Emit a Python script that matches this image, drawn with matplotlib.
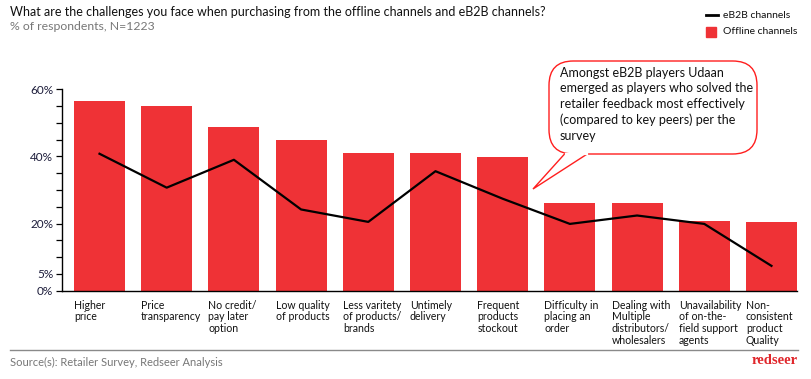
import matplotlib
matplotlib.use("Agg")
import matplotlib.pyplot as plt
from matplotlib.patches import FancyBboxPatch, Polygon, Rectangle
from matplotlib.lines import Line2D

categories = ["Higher\nprice", "Price\ntransparency", "No credit/\npay later\noption",
              "Low quality\nof products", "Less varitety\nof products/\nbrands",
              "Untimely\ndelivery", "Frequent\nproducts\nstockout",
              "Difficulty in\nplacing an\norder", "Dealing with\nMultiple\ndistributors/\nwholesalers",
              "Unavailability\nof on-the-\nfield support\nagents", "Non-\nconsistent\nproduct\nQuality"]
offline = [56.4, 55.1, 48.8, 44.9, 41.0, 41.0, 39.8, 26.1, 26.0, 20.9, 20.6]
eb2b = [40.8, 30.7, 39.0, 24.2, 20.5, 35.6, 27.4, 19.9, 22.4, 19.9, 7.4]
yticks = [0, 5, 20, 40, 60]
ytick_labels = ["0%", "5%", "20%", "40%", "60%"]

title = "What are the challenges you face when purchasing from the offline channels and eB2B channels?"
subtitle = "% of respondents, N=1223"
callout = ("Amongst eB2B players Udaan\nemerged as players who solved the\n"
           "retailer feedback most effectively\n(compared to key peers) per the\nsurvey")
source = "Source(s): Retailer Survey, Redseer Analysis"

RED = "#EF3236"
plt.rcParams['font.family'] = ['Lato', 'DejaVu Sans']

W, H = 811, 379
fig = plt.figure(figsize=(W / 100, H / 100), dpi=100)

def fx(px):
    return px / W

def fy(py):
    return 1 - py / H

ax = fig.add_axes([fx(61.7), fy(290.7), fx(797) - fx(61.7), fy(89.3) - fy(290.7)])
x = list(range(len(categories)))
width = 0.76
ax.bar(x, offline, width=width, color=RED, zorder=2)
ax.plot(x, eb2b, color="black", lw=1.6, zorder=3)
ax.set_xlim(-0.5625, 10 + width / 2)
ax.set_ylim(0, 60)
ax.set_yticks(range(0, 61, 5))
ax.set_yticklabels([ytick_labels[yticks.index(v)] if v in yticks else "" for v in range(0, 61, 5)],
                   fontsize=8.5, color="#1c1c3a")
ax.tick_params(axis='y', length=4, width=0.9, pad=2)
ax.set_xticks([])
for s in ["top", "right"]:
    ax.spines[s].set_visible(False)
ax.spines["left"].set_linewidth(1.0)
ax.spines["bottom"].set_linewidth(1.0)

for i, lab in enumerate(categories):
    ax.text(i - width / 2, -2.7, lab, ha="left", va="top", fontsize=7.6,
            color="#111111", linespacing=1.08)

# Title and subtitle
fig.text(fx(10), fy(12), title, ha="left", va="center", fontsize=9, color="#111111")
fig.text(fx(10), fy(27), subtitle, ha="left", va="center", fontsize=8.8, color="#777777")

# Legend
fig.add_artist(Line2D([fx(706), fx(718)], [fy(15), fy(15)], color="black", lw=2))
fig.text(fx(723), fy(15), "eB2B channels", ha="left", va="center", fontsize=7.5, color="#111111")
fig.add_artist(Rectangle((fx(706), fy(37)), fx(716) - fx(706), fy(27) - fy(37), color=RED))
fig.text(fx(723), fy(32), "Offline channels", ha="left", va="center", fontsize=7.5, color="#111111")

# Callout
box = FancyBboxPatch((fx(549), fy(154)), fx(757) - fx(549), fy(61) - fy(154),
                     boxstyle="round,pad=0,rounding_size=0.03", transform=fig.transFigure,
                     facecolor="white", edgecolor="#FF1E1E", lw=1.0, mutation_aspect=W / H)
fig.add_artist(box)
ptr = Polygon([(fx(565), fy(153.5)), (fx(533), fy(189)), (fx(588), fy(153.5))], closed=False,
              transform=fig.transFigure, facecolor="none", edgecolor="#FF1E1E", lw=1.0)
fig.add_artist(ptr)
fig.add_artist(Line2D([fx(566), fx(587)], [fy(153.8), fy(153.8)], color="white", lw=1.6))
fig.text(fx(560), fy(67), callout, ha="left", va="top", fontsize=9, color="#111111",
         linespacing=1.35)

# Footer
fig.add_artist(Line2D([fx(10), fx(798)], [fy(350), fy(350)], color="#8a8a8a", lw=1.0))
fig.text(fx(10), fy(362), source, ha="left", va="center", fontsize=8, color="#777777")
fig.text(fx(798), fy(361), "redseer", ha="right", va="center", fontsize=10.5, color="#E0262B",
         fontweight="bold", family=["Liberation Serif", "DejaVu Serif"])

fig.savefig("out.png", dpi=100)
